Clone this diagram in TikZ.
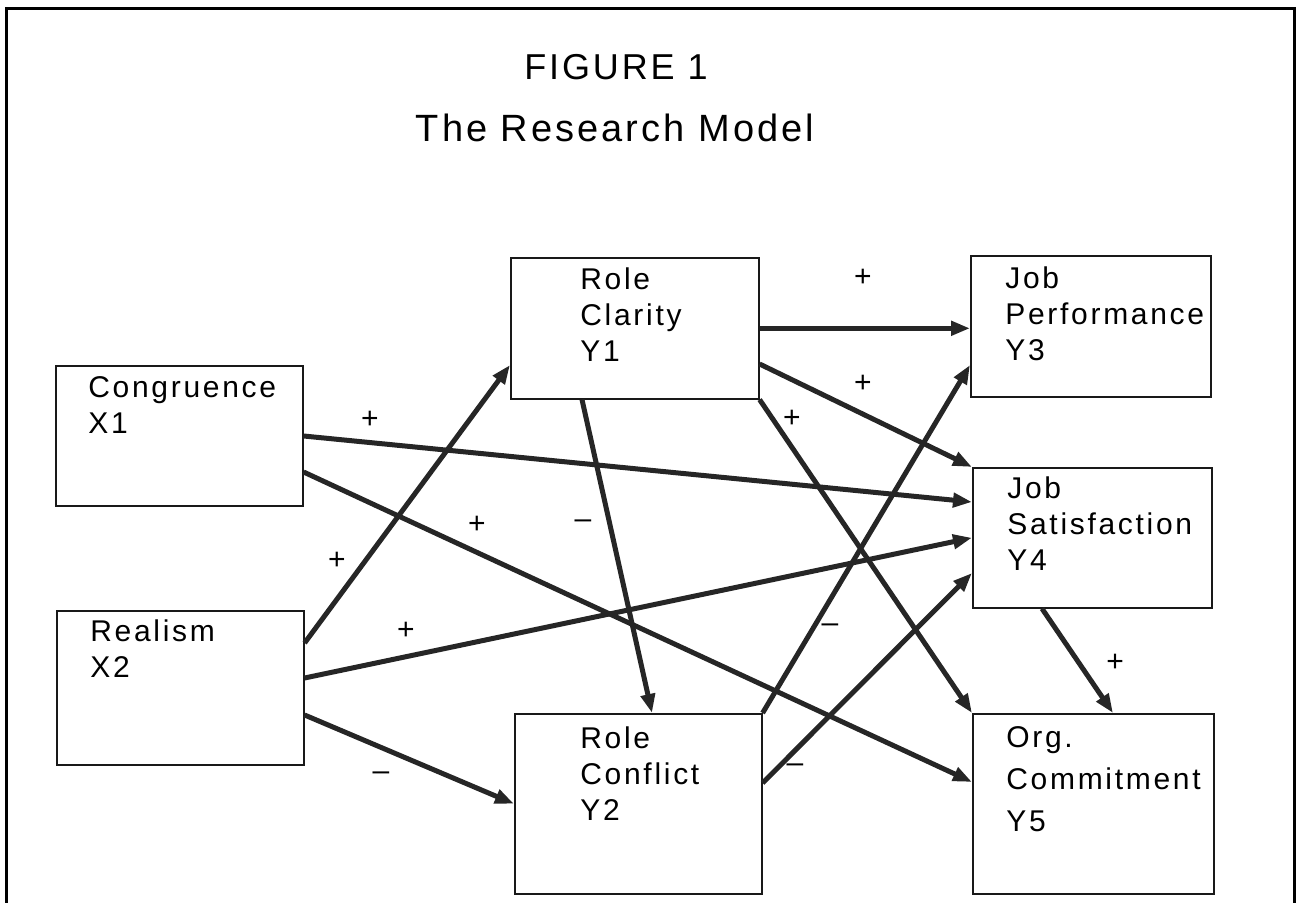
\documentclass[tikz,border=0pt]{standalone}
\usepackage{fontspec}
\setmainfont{Liberation Sans}
\newfontfamily\boxfont[LetterSpace=9]{Liberation Sans}
\newfontfamily\titlefont[LetterSpace=8]{Liberation Sans}
\usetikzlibrary{calc, arrows.meta}

\begin{document}
\begin{tikzpicture}[
        x=0.5pt, y=-0.5pt,
        box/.style={draw=black!90, line width=0.8pt, rectangle, anchor=north west, inner sep=0pt},
        boxtext/.style={anchor=north west, inner sep=0pt, align=left, font=\boxfont\fontsize{15}{18}\selectfont},
        sign/.style={inner sep=0pt, font=\fontsize{15}{15}\selectfont},
        arrow/.style={-{Triangle[length=9.5pt, width=7pt]}, line width=2.5pt, draw=black!85},
    ]
    \useasboundingbox (0,0) rectangle (1297,903);

    % Frame (bottom edge runs off the page)
    \draw[line width=1.5pt] (6,903) |- (1294,9) -- (1294,903);

    % Title
    \node[font=\titlefont\fontsize{18}{20}\selectfont, anchor=base] (fig) at (616,80) {FIGURE 1};
    \node[font=\titlefont\fontsize{19}{22}\selectfont, anchor=base] (title) at (615,142) {The Research Model};

    % Boxes
    \node[box, minimum width=123.5pt, minimum height=70pt] (x1) at (55,365) {};
    \node[box, minimum width=123.5pt, minimum height=77pt] (x2) at (56,610) {};
    \node[box, minimum width=124pt, minimum height=70.5pt] (y1) at (510,257) {};
    \node[box, minimum width=123.5pt, minimum height=90pt] (y2) at (514,713) {};
    \node[box, minimum width=120pt, minimum height=70.5pt] (y3) at (970,255) {};
    \node[box, minimum width=119.5pt, minimum height=70pt] (y4) at (972,467) {};
    \node[box, minimum width=120.5pt, minimum height=90pt] (y5) at (972,713) {};

    % Box texts
    \node[boxtext] (x1t) at ($(x1.north west)+(33,11)$) {Congruence\\X1};
    \node[boxtext] (x2t) at ($(x2.north west)+(34,9)$) {Realism\\X2};
    \node[boxtext] (y1t) at ($(y1.north west)+(70,10)$) {Role\\Clarity\\Y1};
    \node[boxtext] (y2t) at ($(y2.north west)+(66,13)$) {Role\\Conflict\\Y2};
    \node[boxtext] (y3t) at ($(y3.north west)+(35,11)$) {Job\\Performance\\Y3};
    \node[boxtext] (y4t) at ($(y4.north west)+(35,9)$) {Job\\Satisfaction\\Y4};
    \node[boxtext] (y5t) at ($(y5.north west)+(34,13)$) {Org.\\[3pt]Commitment\\[3pt]Y5};

    % Paths from X1 and X2
    \draw[arrow] ($(x1.north east)+(0,71)$) -- ($(y4.north west)+(0,35)$);
    \draw[arrow] ($(x1.north east)+(0,107)$) -- ($(y5.north west)+(0,69)$);
    \draw[arrow] ($(x2.north east)+(0,33)$) -- ($(y1.north west)+(0,108)$);
    \draw[arrow] ($(x2.north east)+(0,68)$) -- (y4.west);
    \draw[arrow] ($(x2.north east)+(0,105)$) -- (y2.west);

    % Paths from Y1
    \draw[arrow] (y1.east) -- (y1.east -| y3.west);
    \draw[arrow] ($(y1.north east)+(0,107)$) -- (y4.north west);
    \draw[arrow] (y1.south east) -- (y5.north west);
    \draw[arrow] ($(y1.south west)+(72,0)$) -- ($(y2.north west)+(138,0)$);

    % Paths from Y2 and Y4
    \draw[arrow] (y2.north east) -- ($(y3.north west)+(0,110)$);
    \draw[arrow] ($(y2.north east)+(0,70)$) -- ($(y4.north west)+(0,106)$);
    \draw[arrow] ($(y4.south west)+(70,0)$) -- ($(y5.north west)+(141,0)$);

    % Signs
    \node[sign] (s1) at (370,420) {+};
    \node[sign] (s2) at (477,525) {+};
    \node[sign] (s3) at (337,561) {+};
    \node[sign] (s4) at (406,631) {+};
    \node[sign] (s5) at (381,776) {\textendash};
    \node[sign] (s6) at (863,278) {+};
    \node[sign] (s7) at (863,384) {+};
    \node[sign] (s8) at (792,419) {+};
    \node[sign] (s9) at (583,524) {\textendash};
    \node[sign] (s10) at (830,628) {\textendash};
    \node[sign] (s11) at (795,768) {\textendash};
    \node[sign] (s12) at (1115,663) {+};
\end{tikzpicture}
\end{document}
